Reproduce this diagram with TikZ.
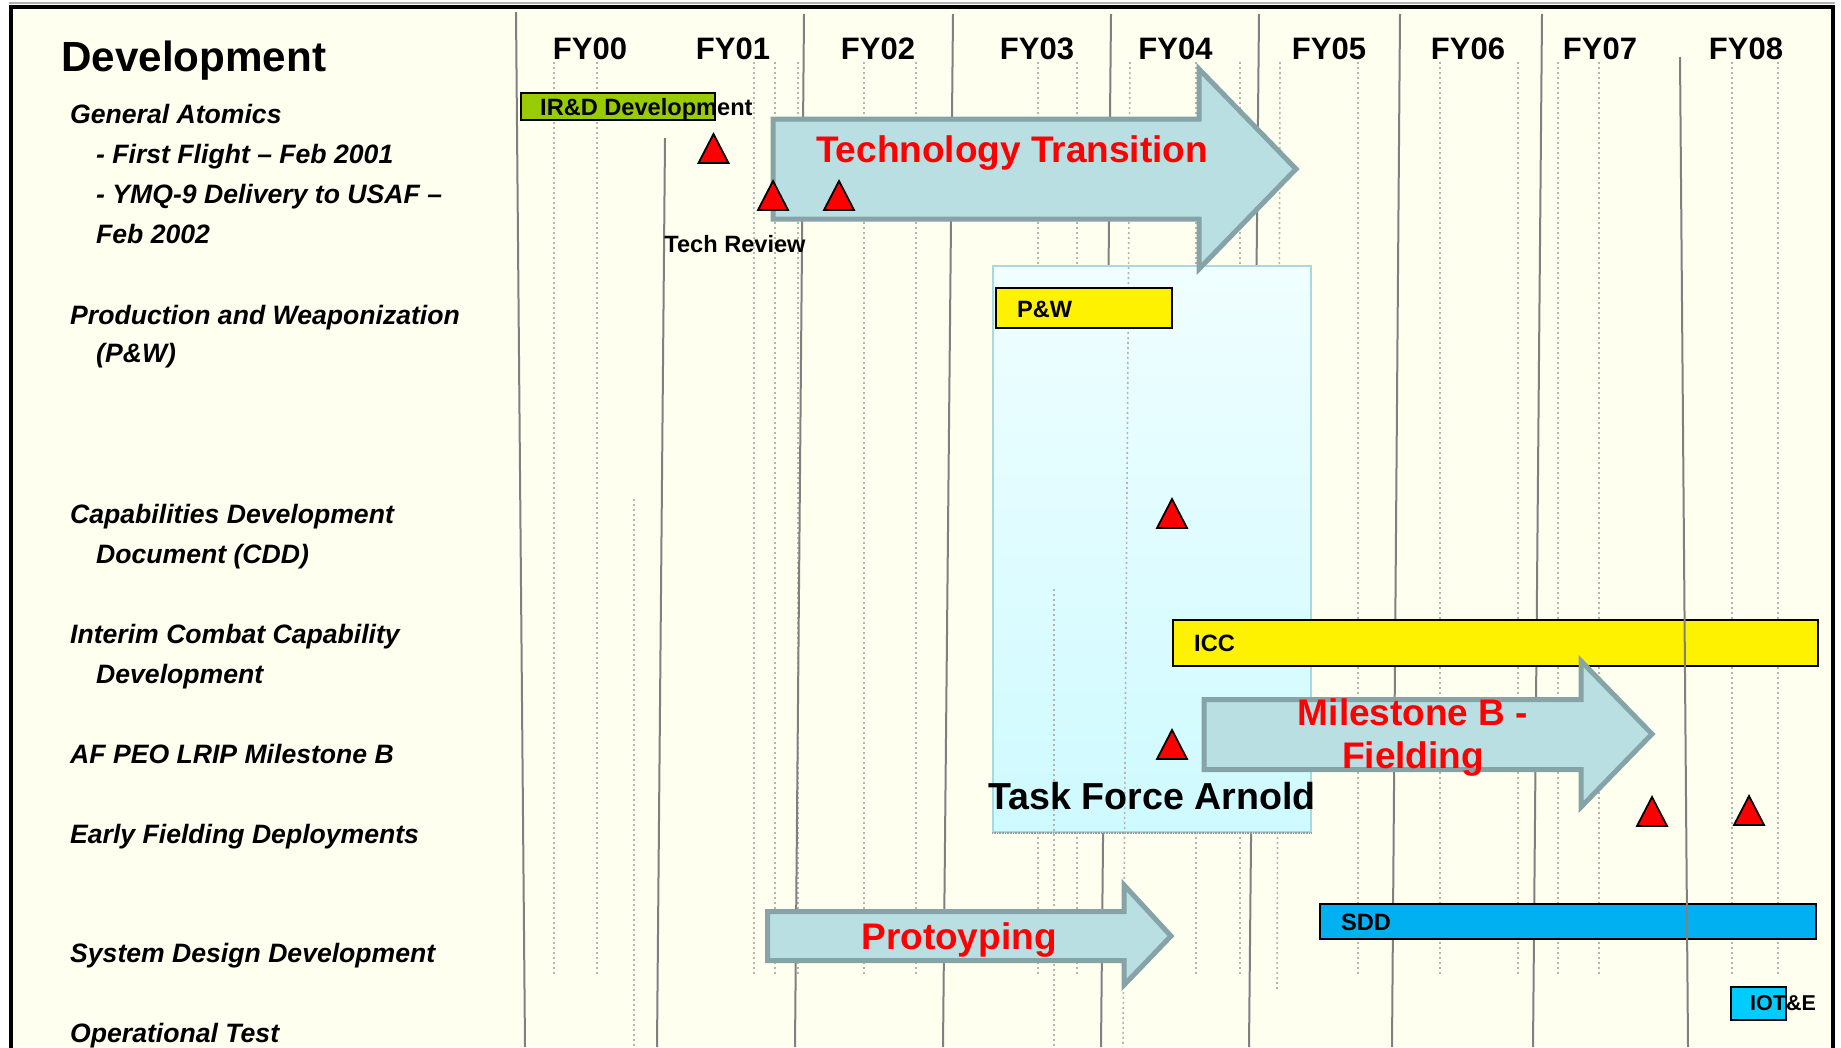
\documentclass[tikz,border=0pt]{standalone}
\usepackage{fontspec}
\setmainfont{Liberation Sans}
\definecolor{cream}{RGB}{255,255,240}
\definecolor{arrowfill}{RGB}{185,223,227}
\definecolor{arrowdraw}{RGB}{134,164,167}
\definecolor{irdgreen}{RGB}{153,204,0}
\definecolor{sddblue}{RGB}{0,176,240}
\definecolor{iotblue}{RGB}{0,204,255}
\definecolor{boxtop}{RGB}{240,254,255}
\definecolor{boxbot}{RGB}{206,250,255}
\definecolor{boxedge}{RGB}{168,216,224}
\definecolor{gridsolid}{RGB}{128,128,128}
\definecolor{griddot}{RGB}{180,180,180}
\newcommand{\fsz}[1]{\fontsize{#1}{#1}\selectfont}
\begin{document}
\begin{tikzpicture}[x=1pt,y=-1pt,
  lbl/.style={anchor=base west, inner sep=0, font=\bfseries\itshape\fsz{26.6}},
  fy/.style={anchor=base, inner sep=0, font=\bfseries\fsz{31}},
  bartxt/.style={anchor=base west, inner sep=0, font=\bfseries\fsz{23.6}},
  redtxt/.style={anchor=base, inner sep=0, text=red, font=\bfseries\fsz{37}},
  bar/.style={draw=black, line width=2.2pt, rectangle, inner sep=0},
  bigarrow/.style={fill=arrowfill, draw=arrowdraw, line width=5pt, line join=miter},
  tri/.style={fill=red, draw=black, line width=1.8pt, line join=miter},
  solidline/.style={draw=gridsolid, line width=2pt},
  dotline/.style={draw=griddot, line width=1.6pt, dash pattern=on 2pt off 3pt},
  milestone/.pic={\draw[tri] (-15,-1) -- (0,-30) -- (15,-1) -- cycle;}
]
\useasboundingbox (0,0) rectangle (1841,1047);
% background
\fill[white] (0,0) rectangle (1841,1047);
\fill[cream] (11,7) rectangle (1833,1047);
% dotted grid lines
\foreach \x in {554,597,754,775,798,864,916,1038,1077,1196,1240,1358,1440,1518,1558,1599,1732,1778}
  \draw[dotline] (\x,62) -- (\x,976);
\draw[dotline] (1280,62) -- (1277,990);
\draw[dotline] (634,499) -- (634,1047);
% solid year lines
\draw[solidline] (516,12) -- (525,1047);
\draw[solidline] (665,138) -- (657,1047);
\draw[solidline] (804,14) -- (795,1047);
\draw[solidline] (953,14) -- (943,1047);
\draw[solidline] (1111,14) -- (1101,1047);
\draw[solidline] (1259,14) -- (1249,1047);
\draw[solidline] (1400,14) -- (1392,1047);
\draw[solidline] (1542,14) -- (1533,1047);
% Task Force Arnold box
\node[rectangle, inner sep=0, top color=boxtop, bottom color=boxbot, draw=boxedge, line width=1.5pt,
      minimum width=318pt, minimum height=566pt] (tfabox) at (1152,549) {};
\draw[gray!80, line width=2.2pt, dash pattern=on 1pt off 0.6pt] (tfabox.south west) -- (tfabox.south east);
\draw[dotline] (1130,62) -- (1123,1047);
\draw[dotline] (1054,589) -- (1054,1047);
% Technology transition arrow
\draw[bigarrow] (773,119) -- (1199,119) -- (1199,69) -- (1296,169) -- (1199,269) -- (1199,219) -- (773,219) -- cycle;
% bars
\node[bar, fill=irdgreen, minimum width=194pt, minimum height=27pt] (ird) at (618,106.5) {};
\node[bar, fill=yellow, minimum width=176pt, minimum height=40pt] (pw) at (1084,308) {};
\node[bar, fill=yellow, minimum width=645pt, minimum height=46pt] (icc) at (1495.5,643) {};
\node[bar, fill=sddblue, minimum width=496pt, minimum height=35pt] (sdd) at (1568,921.5) {};
\node[bar, fill=iotblue, minimum width=55pt, minimum height=33pt] (iot) at (1758.5,1003.5) {};
% Milestone B arrow
\draw[bigarrow] (1204,699.5) -- (1581,699.5) -- (1581,661) -- (1652,734) -- (1581,807) -- (1581,769.5) -- (1204,769.5) -- cycle;
% Protoyping arrow
\draw[bigarrow] (767.5,911.5) -- (1124,911.5) -- (1124,885) -- (1171,936) -- (1124,985) -- (1124,960.5) -- (767.5,960.5) -- cycle;
% line over bars
\draw[solidline] (1680,57) -- (1688,1047);
% frame
\draw[gray!60, line width=1.2pt] (9,3) -- (1835,3);
\draw[black, line width=4pt] (11,1060) -- (11,7) -- (1833,7) -- (1833,1060);
% milestones
\pic at (713.5,164) {milestone};
\pic at (773,211) {milestone};
\pic at (839,211) {milestone};
\pic at (1172,529) {milestone};
\pic at (1172,760) {milestone};
\pic at (1652,827) {milestone};
\pic at (1749,826) {milestone};
% title and year labels
\node[anchor=base west, inner sep=0, font=\bfseries\fsz{42.2}] (title) at (61,71) {Development};
\node[fy] (fy00) at (590,59) {FY00};
\node[fy] (fy01) at (733,59) {FY01};
\node[fy] (fy02) at (878,59) {FY02};
\node[fy] (fy03) at (1037,59) {FY03};
\node[fy] (fy04) at (1175.5,59) {FY04};
\node[fy] (fy05) at (1329,59) {FY05};
\node[fy] (fy06) at (1468,59) {FY06};
\node[fy] (fy07) at (1600,59) {FY07};
\node[fy] (fy08) at (1746,59) {FY08};
% left labels
\node[lbl] (ga) at (70,123.5) {General Atomics};
\node[lbl] (ff) at (96,163.5) {- First Flight – Feb 2001};
\node[lbl] (ymq) at (96,203.5) {- YMQ-9 Delivery to USAF –};
\node[lbl] (feb) at (96,243.5) {Feb 2002};
\node[lbl] (prod) at (70,324.5) {Production and Weaponization};
\node[lbl] (pwl) at (96,362.5) {(P\&W)};
\node[lbl] (cdd) at (70,523.5) {Capabilities Development};
\node[lbl] (cddb) at (96,563.5) {Document (CDD)};
\node[lbl] (iccl) at (70,643.5) {Interim Combat Capability};
\node[lbl] (iccb) at (96,683.5) {Development};
\node[lbl] (peo) at (70,763.5) {AF PEO LRIP Milestone B};
\node[lbl] (efd) at (70,843.5) {Early Fielding Deployments};
\node[lbl] (sysd) at (70,962.5) {System Design Development};
\node[lbl] (opt) at (70,1042.5) {Operational Test};
% chart texts
\node[bartxt] (irdt) at (540,115.7) {IR\&D Development};
\node[anchor=base, inner sep=0, font=\bfseries\fsz{23.6}] (techrev) at (735,252) {Tech Review};
\node[bartxt] (pwt) at (1017,317) {P\&W};
\node[bartxt] (icct) at (1194,651.5) {ICC};
\node[bartxt] (sddt) at (1341,930) {SDD};
\node[anchor=base west, inner sep=0, font=\bfseries\fsz{21.5}] (iott) at (1750,1010.5) {IOT\&E};
\node[redtxt] (techtr) at (1012,162) {Technology Transition};
\node[redtxt] (msb) at (1413,725) {Milestone B -};
\node[redtxt] (field) at (1413,768) {Fielding};
\node[redtxt] (proto) at (959,949) {Protoyping};
\node[anchor=base, inner sep=0, font=\bfseries\fsz{37.6}] (tfa) at (1152,809) {Task Force Arnold};
\end{tikzpicture}
\end{document}
